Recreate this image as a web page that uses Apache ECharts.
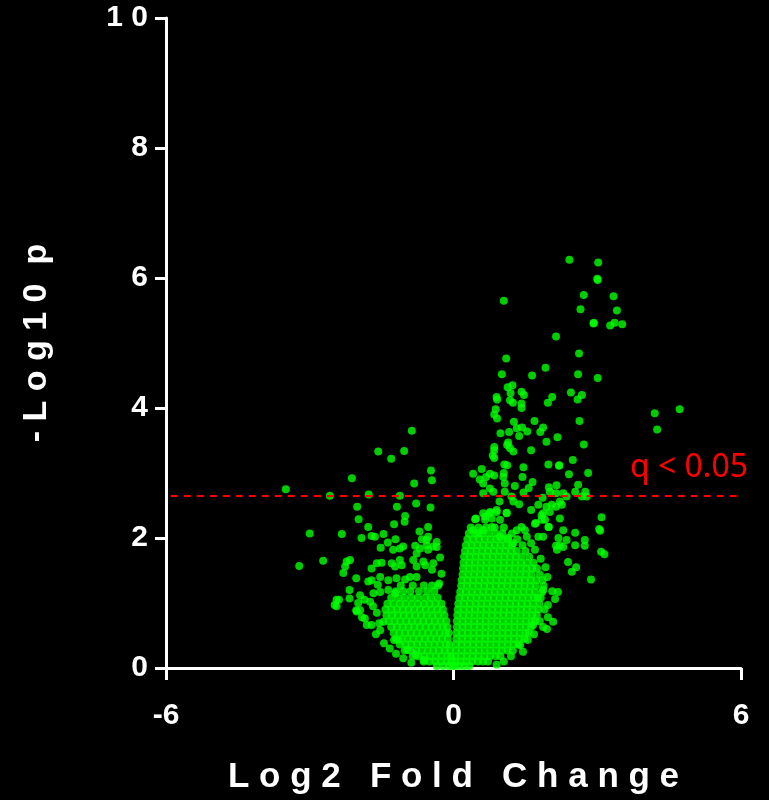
<!DOCTYPE html>
<html>
<head>
<meta charset="utf-8">
<script src="https://cdn.jsdelivr.net/npm/echarts@6/dist/echarts.min.js"></script>
<style>
html,body{margin:0;padding:0;background:#000;}
#chart{width:769px;height:800px;}
</style>
</head>
<body>
<div id="chart"></div>
<script>
// ---- axis settings ----
const xTicks = [-6, 0, 6];
const yTicks = [0, 2, 4, 6, 8, 10];
const xTitle = 'Log2 Fold Change';
const yTitle = '-Log10 p';
const qThreshold = 2.646;
const qLabel = 'q < 0.05';

// ---- down-regulated side: scattered points [log2FC, -log10 p] ----
const downScatter = [
  [-3.50,2.75],[-2.58,2.65],[-2.12,2.92],[-1.57,3.33],[-1.30,3.22],[-1.03,3.34],[-0.87,3.65],
  [-1.77,2.67],[-1.12,2.65],[-0.82,2.84],[-0.47,3.04],[-0.45,2.89],[-2.01,2.48],[-1.98,2.29],
  [-1.18,2.48],[-0.78,2.53],[-0.48,2.47],[-1.01,2.34],[-1.02,2.25],[-1.24,2.21],[-1.78,2.17],
  [-0.53,2.17],[-3.22,1.57],[-3.00,2.07],[-2.72,1.65],[-2.33,2.06],[-0.71,2.10],[-1.92,2.00],
  [-1.71,2.03],[-1.64,2.02],[-1.46,2.06],[-1.21,1.98],[-1.37,1.93],[-1.52,1.85],[-0.66,1.98],
  [-0.53,2.02],[-0.56,1.89],[-0.35,1.86],[-1.05,1.87],[-0.80,1.88],[-1.26,1.82],[-1.12,1.84],
  [-0.77,1.76],[-0.70,1.84],[-0.53,1.82],[-0.42,1.87],[-0.35,1.94],[-0.56,1.97],
  [-1.71,1.53],[-1.60,1.61],[-1.50,1.62],[-1.29,1.61],[-1.22,1.56],[-1.12,1.66],[-1.08,1.58],
  [-0.84,1.66],[-0.77,1.56],[-0.63,1.64],[-0.59,1.58],[-0.42,1.61],[-0.45,1.51],[-0.91,1.40],
  [-0.77,1.40],[-1.78,1.33],[-1.71,1.35],[-1.53,1.40],[-1.36,1.35],[-1.19,1.38],[-1.01,1.36],
  [-1.95,1.12],[-1.99,1.00],[-1.74,1.02],[-1.67,1.15],[-1.53,1.17],[-1.36,1.20],[-1.22,1.15],
  [-2.02,0.87],[-1.95,0.89],[-1.85,0.76],[-1.81,0.66],[-1.71,0.66],[-1.53,0.58],[-1.46,0.71],
  [-2.23,1.64],[-2.16,1.66],[-2.26,1.56],[-2.30,1.46],[-2.03,1.38],[-2.17,1.20],[-2.17,1.07],
  [-2.44,1.05],[-2.44,0.95],[-1.55,0.69],[-1.24,0.43],[-1.15,0.43],[-0.97,0.28],[-0.79,0.20],
  [-0.62,0.12],[-2.03,0.89],[-1.91,0.78],[-2.48,0.97],[-2.39,1.05],[-1.86,1.05],
  [-1.62,0.52],[-1.45,0.38],[-1.33,0.30],[-1.20,0.22],[-1.05,0.15],[-0.88,0.08],[-1.60,0.85],
  [-1.68,0.95],[-1.58,1.28],[-0.30,1.30],[-0.25,1.45],[-0.28,1.70]
];

// ---- down-regulated side: dense core, rows of [-log10 p, log2FC values] ----
const downCoreRows = [
  [0.03,[-0.35,-0.22,-0.10,-0.02]],
  [0.10,[-0.62,-0.50,-0.38,-0.26,-0.14,-0.04]],
  [0.18,[-0.85,-0.73,-0.61,-0.49,-0.37,-0.25,-0.13,-0.05]],
  [0.27,[-1.02,-0.90,-0.78,-0.66,-0.54,-0.42,-0.30,-0.18,-0.07]],
  [0.36,[-1.12,-1.00,-0.88,-0.76,-0.64,-0.52,-0.40,-0.28,-0.16,-0.08]],
  [0.45,[-1.20,-1.08,-0.96,-0.84,-0.72,-0.60,-0.48,-0.36,-0.24,-0.12]],
  [0.54,[-1.25,-1.13,-1.01,-0.89,-0.77,-0.65,-0.53,-0.41,-0.29,-0.17,-0.10]],
  [0.63,[-1.30,-1.18,-1.06,-0.94,-0.82,-0.70,-0.58,-0.46,-0.34,-0.22,-0.13]],
  [0.72,[-1.35,-1.23,-1.11,-0.99,-0.87,-0.75,-0.63,-0.51,-0.39,-0.27,-0.15]],
  [0.81,[-1.40,-1.28,-1.16,-1.04,-0.92,-0.80,-0.68,-0.56,-0.44,-0.32,-0.19]],
  [0.90,[-1.42,-1.30,-1.18,-1.06,-0.94,-0.82,-0.70,-0.58,-0.46,-0.34,-0.22]],
  [0.99,[-1.38,-1.25,-1.12,-1.00,-0.87,-0.74,-0.62,-0.50,-0.38,-0.25]],
  [1.08,[-1.30,-1.15,-1.02,-0.88,-0.75,-0.60,-0.47,-0.33]],
  [1.18,[-1.20,-1.05,-0.90,-0.72,-0.55,-0.40]],
  [1.27,[-1.10,-0.85,-0.62,-0.45,-0.32]]
];

// ---- up-regulated side: scattered points ----
const upScatter = [
  [2.42,6.28],[3.02,6.24],[3.01,5.97],[3.00,5.99],[1.05,5.65],[2.72,5.74],[3.34,5.72],[2.65,5.52],
  [3.41,5.50],[2.92,5.30],[2.93,5.31],[3.27,5.27],[3.36,5.31],[3.52,5.29],[2.14,5.10],[1.10,4.76],
  [2.62,4.84],[1.92,4.62],[2.60,4.52],[3.01,4.46],[1.01,4.52],[1.64,4.50],[1.13,4.32],[1.23,4.35],
  [1.42,4.25],[1.47,4.20],[1.19,4.23],[0.90,4.17],[0.91,4.13],[1.18,4.12],[1.24,4.08],[1.42,4.07],
  [1.42,4.00],[2.45,4.24],[2.68,4.20],[2.59,4.13],[2.06,4.17],[1.97,4.08],[0.88,3.98],[0.85,3.90],
  [0.91,3.84],[1.26,3.79],[1.69,3.80],[2.63,3.80],[1.87,3.70],[1.81,3.63],[1.32,3.69],[1.43,3.70],
  [1.37,3.57],[1.16,3.63],[1.54,3.64],[0.98,3.61],[2.17,3.55],[1.94,3.48],[2.72,3.44],[1.12,3.43],
  [1.18,3.38],[1.25,3.33],[0.85,3.40],[0.85,3.35],[1.62,3.35],[0.82,3.27],[0.85,3.23],[2.49,3.20],
  [1.06,3.13],[1.12,3.12],[1.98,3.13],[2.20,3.11],[2.21,3.12],[1.46,3.09],[2.81,3.00],[2.41,2.98],
  [1.14,3.47],[1.07,2.84],[1.46,2.70],[2.01,2.71],[2.22,2.56],
  [0.41,2.99],[0.59,3.06],[0.55,2.90],[0.68,2.94],[0.76,2.99],[0.62,2.84],[0.85,2.96],[1.04,2.94],
  [1.05,3.00],[1.44,2.94],[1.65,2.86],[1.57,2.77],[1.28,2.80],[1.99,2.78],[2.15,2.81],[2.60,2.82],
  [2.75,2.71],[2.29,2.69],[2.36,2.64],[2.14,2.69],[1.07,2.71],[0.76,2.76],[0.83,2.71],[0.62,2.69],
  [1.21,2.64],[1.25,2.56],[1.37,2.52],[2.54,2.71],[2.68,2.64],[2.78,2.64],[1.86,2.62],[1.77,2.51],
  [1.62,2.43],[1.94,2.48],[2.05,2.51],[2.14,2.48],[2.26,2.51],[2.22,2.30],[1.87,2.38],[1.84,2.28],
  [1.72,2.23],[1.99,2.17],[0.96,2.56],[1.11,2.38],[0.90,2.43],[0.76,2.38],[0.66,2.33],[0.47,2.30],
  [0.97,2.28],[3.09,2.32],[3.04,2.14],
  [0.45,2.29],[0.62,2.38],[0.76,2.40],[0.90,2.40],[0.80,2.30],[0.66,2.28],[1.11,2.39],[1.84,2.35],
  [2.01,2.40],[1.91,2.28],[1.70,2.22],[1.98,2.17],[2.29,2.12],[2.54,2.08],[2.54,1.89],
  [0.41,2.12],[0.52,2.07],[0.62,2.12],[0.80,2.17],[0.97,2.02],[1.32,2.12],[1.42,2.17],[1.49,2.12],
  [1.14,2.00],[1.25,1.92],[1.53,2.02],[1.77,2.02],[1.87,2.02],[2.19,2.00],[2.22,1.89],[2.36,1.97],
  [2.14,1.88],[2.74,1.88],[2.39,1.63],[2.56,1.55],[2.47,1.48],[2.29,1.86],[2.16,1.82],[2.06,1.18],
  [2.18,1.17],[2.12,1.06],[1.97,0.97],[1.97,0.78],[2.08,0.71],[1.87,0.63],[1.95,0.60],[1.66,0.66],
  [1.55,0.43],[1.39,0.35],[1.76,1.08],[1.87,1.20],[3.06,2.11],[2.74,1.97],[3.08,1.79],[3.15,1.75],
  [2.87,1.36],[4.20,3.92],[4.72,3.98],[4.25,3.67],
  [1.05,0.10],[0.90,0.05],[1.20,0.18],[1.45,0.25],[1.68,0.52],[1.80,0.72],[1.90,0.90],[1.96,1.40],
  [1.92,1.55],[1.82,1.68],[1.70,1.82],[1.62,1.92]
];

// ---- up-regulated side: dense core rows ----
const upCoreRows = [
  [0.03,[0.03,0.13,0.23,0.33]],
  [0.10,[0.04,0.15,0.27,0.39,0.51,0.62,0.72]],
  [0.18,[0.04,0.16,0.28,0.40,0.52,0.64,0.76,0.88,0.98]],
  [0.27,[0.05,0.17,0.29,0.41,0.53,0.65,0.77,0.89,1.01,1.13,1.24]],
  [0.36,[0.05,0.17,0.29,0.41,0.53,0.65,0.77,0.89,1.01,1.13,1.25,1.36]],
  [0.45,[0.06,0.18,0.30,0.42,0.54,0.66,0.78,0.90,1.02,1.14,1.26,1.38,1.48]],
  [0.54,[0.06,0.18,0.30,0.42,0.54,0.66,0.78,0.90,1.02,1.14,1.26,1.38,1.50,1.57]],
  [0.63,[0.07,0.19,0.31,0.43,0.55,0.67,0.79,0.91,1.03,1.15,1.27,1.39,1.51,1.62]],
  [0.72,[0.07,0.19,0.31,0.43,0.55,0.67,0.79,0.91,1.03,1.15,1.27,1.39,1.51,1.63,1.70]],
  [0.81,[0.08,0.20,0.32,0.44,0.56,0.68,0.80,0.92,1.04,1.16,1.28,1.40,1.52,1.64,1.74]],
  [0.90,[0.09,0.21,0.33,0.45,0.57,0.69,0.81,0.93,1.05,1.17,1.29,1.41,1.53,1.65,1.77]],
  [0.99,[0.10,0.22,0.34,0.46,0.58,0.70,0.82,0.94,1.06,1.18,1.30,1.42,1.54,1.66,1.79]],
  [1.08,[0.12,0.24,0.36,0.48,0.60,0.72,0.84,0.96,1.08,1.20,1.32,1.44,1.56,1.68,1.82]],
  [1.17,[0.14,0.26,0.38,0.50,0.62,0.74,0.86,0.98,1.10,1.22,1.34,1.46,1.58,1.70,1.85]],
  [1.26,[0.16,0.28,0.40,0.52,0.64,0.76,0.88,1.00,1.12,1.24,1.36,1.48,1.60,1.72,1.88]],
  [1.35,[0.17,0.29,0.41,0.53,0.65,0.77,0.89,1.01,1.13,1.25,1.37,1.49,1.61,1.73,1.86]],
  [1.44,[0.19,0.31,0.43,0.55,0.67,0.79,0.91,1.03,1.15,1.27,1.39,1.51,1.63,1.80]],
  [1.53,[0.20,0.32,0.44,0.56,0.68,0.80,0.92,1.04,1.16,1.28,1.40,1.52,1.64,1.74]],
  [1.62,[0.21,0.33,0.45,0.57,0.69,0.81,0.93,1.05,1.17,1.29,1.41,1.53,1.67]],
  [1.71,[0.22,0.34,0.46,0.58,0.70,0.82,0.94,1.06,1.18,1.30,1.42,1.58]],
  [1.80,[0.24,0.36,0.48,0.60,0.72,0.84,0.96,1.08,1.20,1.32,1.50]],
  [1.89,[0.26,0.38,0.50,0.62,0.74,0.86,0.98,1.10,1.22,1.44]],
  [1.98,[0.29,0.41,0.53,0.65,0.77,0.89,1.01,1.13,1.33]],
  [2.07,[0.32,0.46,0.60,0.74,0.88,1.02,1.22]],
  [2.16,[0.36,0.52,0.68,0.86,1.05]]
];

function expandRows(rows) {
  const out = [];
  rows.forEach(function (r) { r[1].forEach(function (x) { out.push([x, r[0]]); }); });
  return out;
}
function spaced(s, wordGap) {
  return s.split(' ').map(function (w) { return w.split('').join(' '); }).join(wordGap);
}

const allPoints = []
  .concat(expandRows(downCoreRows))
  .concat(expandRows(upCoreRows))
  .concat(downScatter)
  .concat(upScatter);

const chart = echarts.init(document.getElementById('chart'), null, {renderer: 'canvas'});
const white = '#ffffff';
const boldFont = 'Liberation Sans, Arial, sans-serif';

chart.setOption({
  backgroundColor: '#000000',
  animation: false,
  grid: {left: 166, right: 28, top: 18, bottom: 132, containLabel: false, outerBoundsMode: 'none'},
  xAxis: {
    type: 'value', min: xTicks[0], max: xTicks[xTicks.length - 1], interval: xTicks[1] - xTicks[0],
    axisLine: {show: true, onZero: false, lineStyle: {color: white, width: 3}},
    axisTick: {show: true, length: 12, lineStyle: {color: white, width: 3}},
    splitLine: {show: false},
    axisLabel: {color: white, fontSize: 30, fontWeight: 'bold', fontFamily: boldFont, margin: 33},
    name: spaced(xTitle, '   '), nameLocation: 'middle', nameGap: 92,
    nameTextStyle: {color: white, fontSize: 35, fontWeight: 'bold', fontFamily: boldFont}
  },
  yAxis: {
    type: 'value', min: yTicks[0], max: yTicks[yTicks.length - 1], interval: yTicks[1] - yTicks[0],
    axisLine: {show: true, onZero: false, lineStyle: {color: white, width: 3}},
    axisTick: {show: true, length: 11, lineStyle: {color: white, width: 3}},
    splitLine: {show: false},
    axisLabel: {color: white, fontSize: 30, fontWeight: 'bold', fontFamily: boldFont, margin: 18,
      formatter: function (v) { return String(v).split('').join(' '); }},
    name: spaced(yTitle, '  '), nameLocation: 'middle', nameGap: 112, nameRotate: 90,
    nameTextStyle: {color: white, fontSize: 34, fontWeight: 'bold', fontFamily: boldFont}
  },
  series: [{
    type: 'scatter',
    data: allPoints,
    symbol: 'circle',
    symbolSize: 8,
    itemStyle: {color: '#00ff00', opacity: 0.8},
    silent: true,
    markLine: {
      silent: true,
      symbol: 'none',
      animation: false,
      lineStyle: {color: '#ff0000', width: 2, type: [7, 6]},
      label: {show: true, formatter: qLabel, position: 'insideEndTop', distance: [0, 12], offset: [7, 0],
        color: '#ff0000', fontSize: 32, fontFamily: 'Noto Sans'},
      data: [[{coord: [-5.9, qThreshold]}, {coord: [6, qThreshold]}]]
    }
  }]
});
</script>
</body>
</html>
